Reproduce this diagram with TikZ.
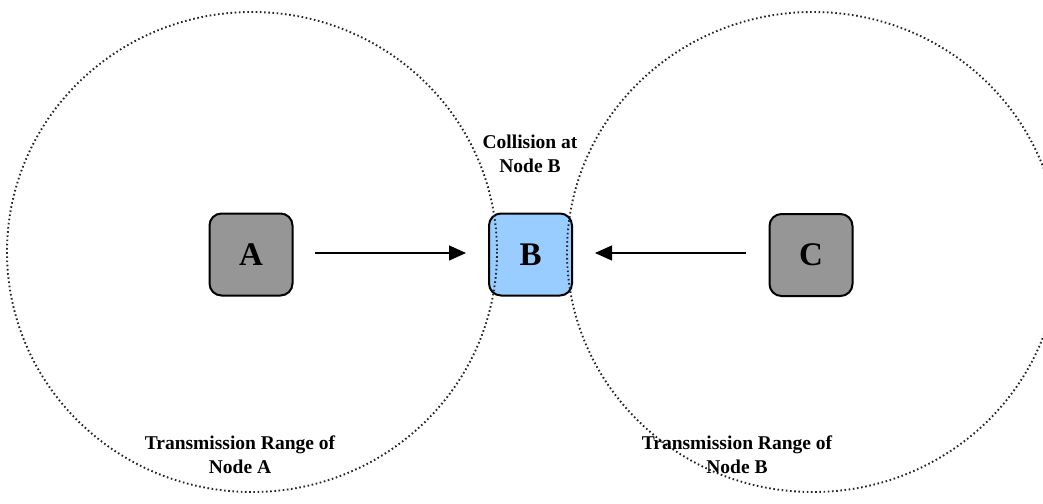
\documentclass[tikz,border=0pt]{standalone}
\usepackage{fontspec}
\setmainfont{Liberation Serif}
\usetikzlibrary{arrows.meta}
\definecolor{nodegray}{HTML}{969696}
\definecolor{nodeblue}{HTML}{99CCFF}
\begin{document}
\begin{tikzpicture}[x=1pt,y=-1pt,
  station/.style={draw=black,line width=2pt,rounded corners=12pt,
    minimum width=83pt,minimum height=82pt,inner sep=0pt,
    font=\fontsize{33}{36}\selectfont\bfseries},
  txrange/.style={line width=1.9pt,dash pattern=on 1.6pt off 2.6pt,black!85},
  link/.style={line width=1.3pt,-{Triangle[length=17pt,width=15pt]}},
  caption/.style={align=center,font=\fontsize{19.5}{24}\selectfont\bfseries}]
  \useasboundingbox (0,0) rectangle (1043,503);
  % stations
  \node[station,fill=nodegray] (A) at (251,254.5) {A};
  \node[station,fill=nodeblue] (B) at (530.5,254.5) {B};
  \node[station,fill=nodegray] (C) at (811,255) {C};
  % transmission ranges
  \begin{scope}
    \clip (0,0) rectangle (1043,503);
    \draw[txrange] (252,252) ellipse [x radius=245, y radius=240];
    \draw[txrange] (813,252) ellipse [x radius=246, y radius=240];
  \end{scope}
  % transmissions
  \coordinate (a1) at (315,253);
  \coordinate (c1) at (746,253);
  \draw[link] (a1) -- ([xshift=-22pt]B.west |- a1);
  \draw[link] (c1) -- ([xshift=22pt]B.east |- c1);
  % labels
  \node[caption] (col) at (530,154) {Collision at\\Node B};
  \node[caption] (ra) at (240,455) {Transmission Range of\\Node A};
  \node[caption] (rb) at (737,455) {Transmission Range of\\Node B};
\end{tikzpicture}
\end{document}
